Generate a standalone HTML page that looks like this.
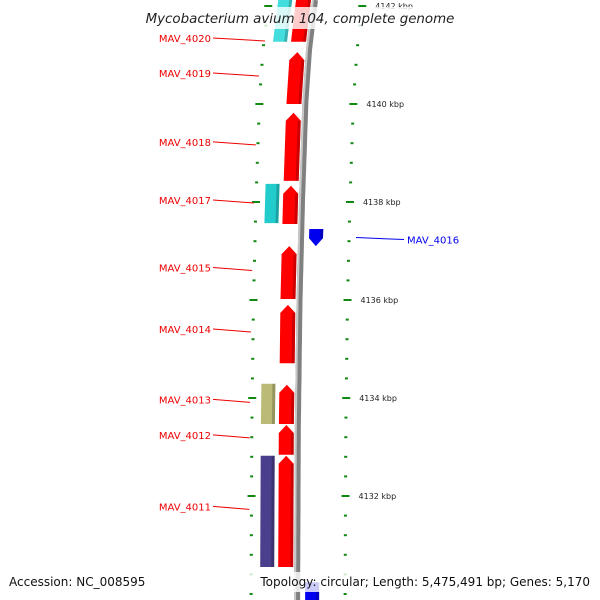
<!DOCTYPE html>
<html><head><meta charset="utf-8"><style>
html,body{margin:0;padding:0;background:#fff;width:600px;height:600px;overflow:hidden;}
svg{display:block;overflow:hidden;font-family:"DejaVu Sans","Liberation Sans",sans-serif;}
</style></head><body>
<svg id="map" width="600" height="600" viewBox="0 0 600 600">
<g id="ticks"></g>
<g id="genes"></g>
<g id="labels"></g>
<rect x="140" y="7" width="320" height="22" fill="rgba(255,255,255,0.8)"/>
<text x="300" y="23" text-anchor="middle" font-size="13.4" font-style="italic" fill="#222">Mycobacterium avium 104, complete genome</text>
<rect x="0" y="572" width="600" height="20" fill="rgba(255,255,255,0.8)"/>
<text x="9" y="586" font-size="12" fill="#111">Accession: NC_008595</text>
<text x="590" y="586" text-anchor="end" font-size="12" fill="#111">Topology: circular; Length: 5,475,491 bp; Genes: 5,170</text>
</svg>
<script>
const ticksKbp = [];
for (let k = 41292; k <= 41424; k += 4) ticksKbp.push(k / 10);
const majorTicks = [4132, 4134, 4136, 4138, 4140, 4142];
const geneNames = ["MAV_4020","MAV_4019","MAV_4018","MAV_4017","MAV_4015","MAV_4014","MAV_4013","MAV_4012","MAV_4011","MAV_4016"];
const geneStart = [4141.27,4140.00,4138.43,4137.55,4136.02,4134.71,4133.47,4132.84,4130.55,4137.10];
const geneEnd   = [4142.30,4141.06,4139.82,4138.33,4137.10,4135.90,4134.27,4133.45,4132.82,4137.45];
const geneStrand= [1,1,1,1,1,1,1,1,1,-1];
const otherStart = [4141.27,4137.57,4133.47,4130.55,4129.80];
const otherEnd   = [4142.30,4138.37,4134.29,4132.82,4130.24];
const otherColor = ["#44dddd","#22cccc","#bbbb77","#4a3f8c","#0000ee"];
const otherTrack = [-1,-1,-1,-1,1];

const NS = "http://www.w3.org/2000/svg";
function yOf(k){ return 104 + (4140 - k) * 49; }
const bbPts = [[-20,318],[0,315],[50,309],[100,305.5],[200,302],[300,299.5],[430,297.8],[620,297]];
function xOf(y){
  for (let i=0;i<bbPts.length-1;i++){
    const a=bbPts[i], b=bbPts[i+1];
    if (y<=b[0]) return a[1]+(b[1]-a[1])*(y-a[0])/(b[0]-a[0]);
  }
  return 297;
}
function mk(tag, attrs, parent){
  const e=document.createElementNS(NS,tag);
  for (const k in attrs) e.setAttribute(k, attrs[k]);
  parent.appendChild(e); return e;
}
const svg=document.getElementById('map');
let d="";
for (let y=0;y<=600;y+=10){ d += (y===0?"M":"L")+xOf(y).toFixed(1)+","+y+" "; }
const bb=mk('path',{d:d,fill:'none',stroke:'#808080','stroke-width':6},svg);


svg.insertBefore(bb, svg.firstChild);
const bb2=mk('path',{d:d,fill:'none',stroke:'#c8c8c8','stroke-width':2,transform:'translate(-2,0)'},svg);


svg.insertBefore(bb2, bb.nextSibling);

const tg=document.getElementById('ticks');
ticksKbp.forEach(k=>{
  const y=yOf(k), x=xOf(y);
  if (y>600) return;
  const major = majorTicks.some(m=>Math.abs(m-k)<0.01);
  const len = major?8:3;
  [[x-46],[x+48]].forEach((p,i)=>{
    const t=mk('rect',{x:p[0]-len/2,y:y-1,width:len,height:2,fill:'#118811'},tg);
    
    
  });
  if (major){
    const lab=mk('text',{x:x+61,y:y+3,'font-size':8,fill:'#222'},tg);
    lab.textContent = k+" kbp";
    
    
  }
});

const gg=document.getElementById('genes');
function block(y1,y2,o1,o2,fill,arrowTop,arrowBot,name){
  const ah=8;
  const xa=(y,o)=>xOf(y)+o;
  let pts=[];
  const top=y1, bot=y2;
  if (arrowTop){
    pts.push([ (xa(top,o1)+xa(top,o2))/2, top ]);
    pts.push([ xa(top+ah,o2), top+ah ]);
  } else pts.push([xa(top,o1),top],[xa(top,o2),top]);
  if (arrowBot){
    pts.push([ xa(bot-ah,o2), bot-ah ]);
    pts.push([ (xa(bot,o1)+xa(bot,o2))/2, bot ]);
    pts.push([ xa(bot-ah,o1), bot-ah ]);
  } else pts.push([xa(bot,o2),bot],[xa(bot,o1),bot]);
  if (arrowTop) pts.push([xa(top+ah,o1), top+ah]);
  const p=mk('polygon',{points:pts.map(q=>q[0].toFixed(1)+","+q[1].toFixed(1)).join(" "),fill:fill},gg);
  
  
  const t2=top+(arrowTop?ah:0), b2=bot-(arrowBot?ah:0);
  const sh=mk('polygon',{points:[[xa(t2,o2-3),t2],[xa(t2,o2),t2],[xa(b2,o2),b2],[xa(b2,o2-3),b2]].map(q=>q[0].toFixed(1)+","+q[1].toFixed(1)).join(" "),fill:'rgba(0,0,0,0.2)'},gg);
  
  
}
otherStart.forEach((s,i)=>{
  const o = otherTrack[i]<0 ? [-37,-23] : [8,22];
  block(yOf(otherEnd[i]), yOf(s), o[0], o[1], otherColor[i], false, false, 'feature-block');
});
const lg=document.getElementById('labels');
geneNames.forEach((n,i)=>{
  const y1=yOf(geneEnd[i]), y2=yOf(geneStart[i]);
  if (geneStrand[i]>0){
    block(y1,y2,-19,-4,'#ff0000',true,false,'gene-'+n.toLowerCase().replace('_','-'));
    const ly=(y1+y2)/2;
    const gx=xOf(ly)-48;
    const ty=Math.max(ly-5,38);
    const l=mk('line',{x1:213,y1:ty,x2:gx,y2:ty+3,stroke:'#ee0000','stroke-width':1},lg);
    
    
    const t=mk('text',{x:211,y:ty+4,'text-anchor':'end','font-size':10,fill:'#ee0000'},lg);
    t.textContent=n;
    
    
  } else {
    block(y1,y2,8,22,'#0000ee',false,true,'gene-'+n.toLowerCase().replace('_','-'));
    const ly=(y1+y2)/2;
    const l=mk('line',{x1:356,y1:ly,x2:404,y2:ly+2,stroke:'#0000ee','stroke-width':1},lg);
    
    
    const t=mk('text',{x:407,y:ly+6,'font-size':10,fill:'#0000ee'},lg);
    t.textContent=n;
    
    
  }
});
</script>
</body></html>
